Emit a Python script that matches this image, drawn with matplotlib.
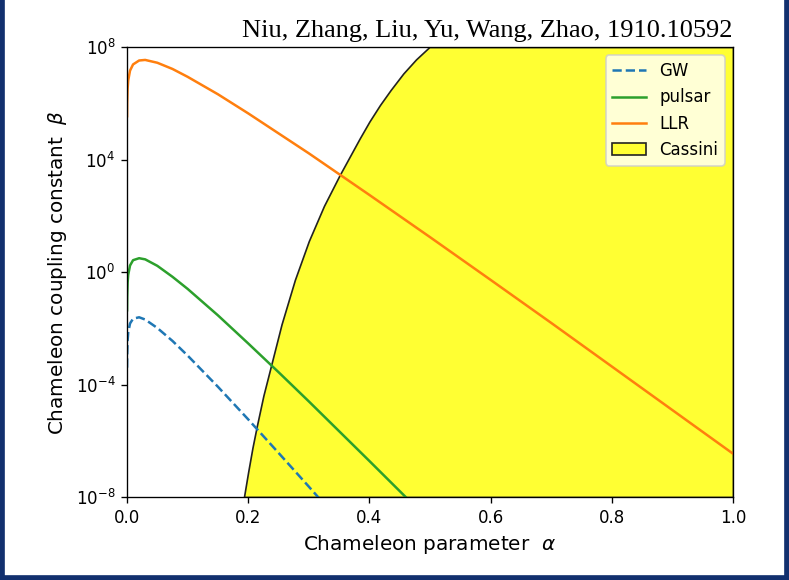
import matplotlib.pyplot as plt
from matplotlib.patches import Rectangle
from matplotlib.ticker import FixedLocator, NullLocator

# log10(beta) bounds against the chameleon parameter alpha
alpha = [0.0001, 0.0003, 0.001, 0.002, 0.005, 0.01, 0.02, 0.03, 0.05, 0.075,
         0.1, 0.15, 0.2, 0.25, 0.3, 0.35, 0.4, 0.45, 0.5, 0.6, 0.7, 0.8, 0.9, 1.0]

gw_log = [-3.40, -2.93, -2.43, -2.15, -1.83, -1.66, -1.61, -1.69, -1.99, -2.45,
          -2.97, -4.08, -5.24, -6.43, -7.63, -8.85, None, None, None, None,
          None, None, None, None]
pulsar_log = [-1.36, -0.89, -0.38, -0.10, 0.23, 0.42, 0.49, 0.45, 0.22, -0.17,
              -0.60, -1.54, -2.54, -3.56, -4.60, -5.66, -6.72, -7.79, -8.86, None,
              None, None, None, None]
llr_log = [5.54, 6.01, 6.52, 6.81, 7.16, 7.38, 7.52, 7.54, 7.44, 7.22,
           6.94, 6.32, 5.64, 4.93, 4.22, 3.48, 2.74, 1.99, 1.24, -0.28,
           -1.81, -3.36, -4.91, -6.46]

# Cassini excluded-region boundary
cassini_alpha = [0.193, 0.200, 0.207, 0.214, 0.225, 0.238, 0.255, 0.277, 0.300,
                 0.325, 0.351, 0.384, 0.400, 0.4175, 0.435, 0.456, 0.477, 0.499]
cassini_log = [-8.0, -7.1, -6.25, -5.5, -4.4, -3.3, -1.86, -0.28, 1.1,
               2.35, 3.45, 4.75, 5.35, 5.94, 6.47, 7.06, 7.56, 8.0]


def curve(xs, logs):
    pts = [(x, 10.0 ** v) for x, v in zip(xs, logs) if v is not None]
    return [p[0] for p in pts], [p[1] for p in pts]


fig = plt.figure(figsize=(789 / 120, 580 / 120), dpi=120)
ax = fig.add_axes([127 / 789, 83 / 580, 606 / 789, 450 / 580])

x, y = curve(alpha, gw_log)
ax.plot(x, y, '--', color='tab:blue', label='GW')
x, y = curve(alpha, pulsar_log)
ax.plot(x, y, color='tab:green', label='pulsar')
x, y = curve(alpha, llr_log)
ax.plot(x, y, color='tab:orange', label='LLR')

cx, cy = curve(cassini_alpha, cassini_log)
ax.fill_betweenx(cy, cx, 1.0, facecolor='#ffff33', edgecolor='#222222',
                 linewidth=1, zorder=1, label='Cassini')

ax.set_yscale('log')
ax.set_xlim(0, 1)
ax.set_ylim(1e-8, 1e8)
ax.yaxis.set_major_locator(FixedLocator([1e-8, 1e-4, 1e0, 1e4, 1e8]))
ax.yaxis.set_minor_locator(NullLocator())
ax.set_xticks([0.0, 0.2, 0.4, 0.6, 0.8, 1.0])

ax.set_xlabel(r'Chameleon parameter  $\alpha$', fontsize=12)
ax.set_ylabel(r'Chameleon coupling constant  $\beta$', fontsize=12)
ax.set_title('Niu, Zhang, Liu, Yu, Wang, Zhao, 1910.10592', loc='right',
             fontsize=15.8, family='Liberation Serif')
ax.legend(loc='upper right')

# dark frame along the left, right and bottom edges
frame = '#12306e'
fig.patches.append(Rectangle((0, 0), 4 / 789, 1, transform=fig.transFigure,
                             color=frame, zorder=10))
fig.patches.append(Rectangle((1 - 4 / 789, 0), 4 / 789, 1, transform=fig.transFigure,
                             color=frame, zorder=10))
fig.patches.append(Rectangle((0, 0), 1, 4 / 580, transform=fig.transFigure,
                             color=frame, zorder=10))

fig.savefig('out.png', dpi=120)
